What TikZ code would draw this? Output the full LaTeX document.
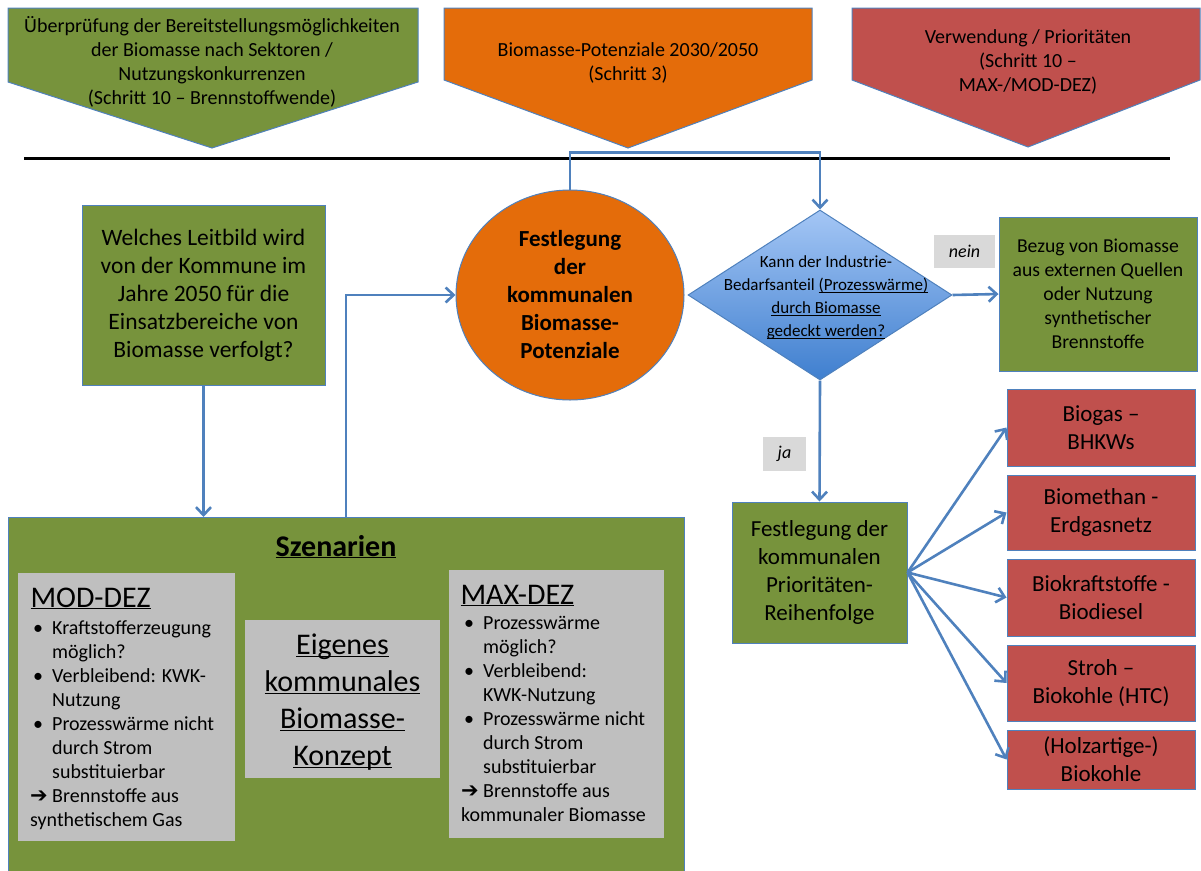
\documentclass[tikz,border=0pt]{standalone}
\usepackage{fontspec}
\setmainfont{Carlito}
\newfontfamily\dingfont{DejaVu Sans}
\usetikzlibrary{arrows.meta,positioning,shapes.geometric,calc}

\definecolor{leafgreen}{HTML}{77933C}
\definecolor{rust}{HTML}{E46C0A}
\definecolor{brick}{HTML}{C0504D}
\definecolor{edgeblue}{HTML}{4F81BD}
\definecolor{panelgrey}{HTML}{BFBFBF}
\definecolor{taggrey}{HTML}{D9D9D9}
\definecolor{skytop}{HTML}{A4C6F5}
\definecolor{skybot}{HTML}{3F7FCF}

\newcommand{\fsz}[2]{\fontsize{#1}{#2}\selectfont}
\newcommand{\uln}[1]{\underline{\smash{#1}}}
\newcommand{\bul}{\makebox[22pt][l]{\hspace{3pt}\textbullet}}
\newcommand{\ind}{\hspace*{22pt}}
\newcommand{\darr}{\makebox[22pt][l]{{\dingfont\fsz{21}{24}➔}}}

\begin{document}
\begin{tikzpicture}[x=1pt,y=-1pt,
  box/.style={draw=edgeblue,line width=1pt,fill=#1,align=center,inner sep=0pt},
  panel/.style={fill=panelgrey,inner sep=0pt},
  tag/.style={fill=taggrey,font=\fsz{18}{20}\itshape,inner sep=0pt},
  chev/.style={draw=edgeblue,line width=1pt,fill=#1},
  arr/.style={draw=edgeblue,line width=2.6pt,-{Straight Barb[length=8pt,width=15pt]}}
]
\useasboundingbox (0,0) rectangle (1201,870);

% headers
\draw[chev=leafgreen] (8,8) -- (418,8) -- (418,82) -- (212,148) -- (8,82) -- cycle;
\draw[chev=rust] (444,8) -- (812,8) -- (812,80) -- (628,148) -- (444,80) -- cycle;
\draw[chev=brick] (852,8) -- (1200,8) -- (1200,80) -- (1028,147) -- (852,80) -- cycle;
\node[font=\fsz{20}{24},align=center] (check) at (212,62)
  {Überprüfung der Bereitstellungsmöglichkeiten\\der Biomasse nach Sektoren /\\Nutzungskonkurrenzen\\(Schritt 10 – Brennstoffwende)};
\node[font=\fsz{20}{24},align=center] (potstep) at (628,63)
  {Biomasse-Potenziale 2030/2050\\(Schritt 3)};
\node[font=\fsz{20}{24},align=center] (usestep) at (1028,62)
  {Verwendung / Prioritäten\\(Schritt 10 –\\MAX-/MOD-DEZ)};
\draw[line width=3pt] (24,158) -- (1170,158);

% main flow
\node[box=leafgreen,minimum width=243pt,minimum height=180pt,font=\fsz{23.5}{28}] (leit) at (203.5,295)
  {Welches Leitbild wird\\von der Kommune im\\Jahre 2050 für die\\Einsatzbereiche von\\Biomasse verfolgt?};
\node[ellipse,draw=edgeblue,line width=1pt,fill=rust,minimum width=228pt,minimum height=210pt,
      inner sep=0pt,align=center,font=\fsz{23}{28}\bfseries] (festpot) at (570,295)
  {Festlegung\\der\\kommunalen\\Biomasse-\\Potenziale};
\node[diamond,draw=edgeblue,line width=1pt,top color=skytop,bottom color=skybot,
      minimum width=264pt,minimum height=170pt,inner sep=0pt] (ask) at (820,295) {};
\node[font=\fsz{17}{23},align=center] (asktxt) at (826,297)
  {Kann der Industrie-\\Bedarfsanteil \uln{(Prozesswärme)}\\\uln{durch Biomasse}\\\uln{gedeckt werden?}};
\node[box=leafgreen,minimum width=198pt,minimum height=154pt,font=\fsz{19.7}{24}] (bezug) at (1098,294)
  {Bezug von Biomasse\\aus externen Quellen\\oder Nutzung\\synthetischer\\Brennstoffe};
\node[tag,minimum width=61pt,minimum height=33pt] (nein) at (964.5,251.5) {nein};
\node[tag,minimum width=43pt,minimum height=34pt] (ja) at (784.5,454) {ja};
\node[box=leafgreen,minimum width=175pt,minimum height=141pt,font=\fsz{23}{28}] (prio) at (819.5,572.5)
  {Festlegung der\\kommunalen\\Prioritäten-\\Reihenfolge};

% uses
\begin{scope}[node distance=8pt,every node/.append style={box=brick,minimum width=188pt,font=\fsz{23}{28}}]
\node[minimum height=77pt] (use1) at (1101,427.5) {Biogas –\\BHKWs};
\node[minimum height=75pt,below=of use1] (use2) {Biomethan -\\Erdgasnetz};
\node[minimum height=77pt,below=of use2] (use3) {Biokraftstoffe -\\Biodiesel};
\node[minimum height=76pt,below=of use3] (use4) {Stroh –\\Biokohle (HTC)};
\node[minimum height=59pt,below=of use4] (use5) {(Holzartige-)\\Biokohle};
\end{scope}

% scenarios
\node[box=leafgreen,minimum width=676pt,minimum height=380pt,anchor=north west] (szen) at (8,517) {};
\node[font=\fsz{30}{34}\bfseries] (szentitle) at (336,557) {\uln{Szenarien}};
\node[panel,minimum width=217pt,minimum height=268pt,anchor=north west] (mod) at (18,573) {};
\node[font=\fsz{30}{34},anchor=west] (modhead) at (27,608) {\uln{MOD-DEZ}};
\node[font=\fsz{20}{24},align=left,anchor=north west,inner sep=0pt] (modlist) at (30,620)
  {\bul Kraftstofferzeugung\\\ind möglich?\\\bul Verbleibend: KWK-\\\ind Nutzung\\\bul Prozesswärme nicht\\\ind durch Strom\\\ind substituierbar\\\darr Brennstoffe aus\\synthetischem Gas};
\node[panel,minimum width=195pt,minimum height=158pt,align=center,font=\fsz{30}{37}] (own) at (342.5,699) {};
\node[align=center,font=\fsz{30}{37}] (owntxt) at (342.5,711)
  {\uln{Eigenes}\\\uln{kommunales}\\\uln{Biomasse-}\\\uln{Konzept}};
\node[panel,minimum width=215pt,minimum height=268pt,anchor=north west] (max) at (449,570) {};
\node[font=\fsz{30}{34},anchor=west] (maxhead) at (457,605) {\uln{MAX-DEZ}};
\node[font=\fsz{20}{24},align=left,anchor=north west,inner sep=0pt] (maxlist) at (461,616)
  {\bul Prozesswärme\\\ind möglich?\\\bul Verbleibend:\\\ind KWK-Nutzung\\\bul Prozesswärme nicht\\\ind durch Strom\\\ind substituierbar\\\darr Brennstoffe aus\\kommunaler Biomasse};
\coordinate (szenout) at (346,517);

% connectors
\draw[arr] (leit.south) -- (leit.south |- szen.north);
\draw[arr] (szenout) |- (festpot.west);
\draw[arr] (festpot.north) -- ++(0,-37) -| (ask.north);
\draw[arr] (ask.east) -- (bezug.west);
\draw[arr] (ask.south) -- (prio.north);
\foreach \u in {use1,use2,use3,use4,use5}
  \draw[arr] (prio.east) -- (\u.west);
\end{tikzpicture}
\end{document}
